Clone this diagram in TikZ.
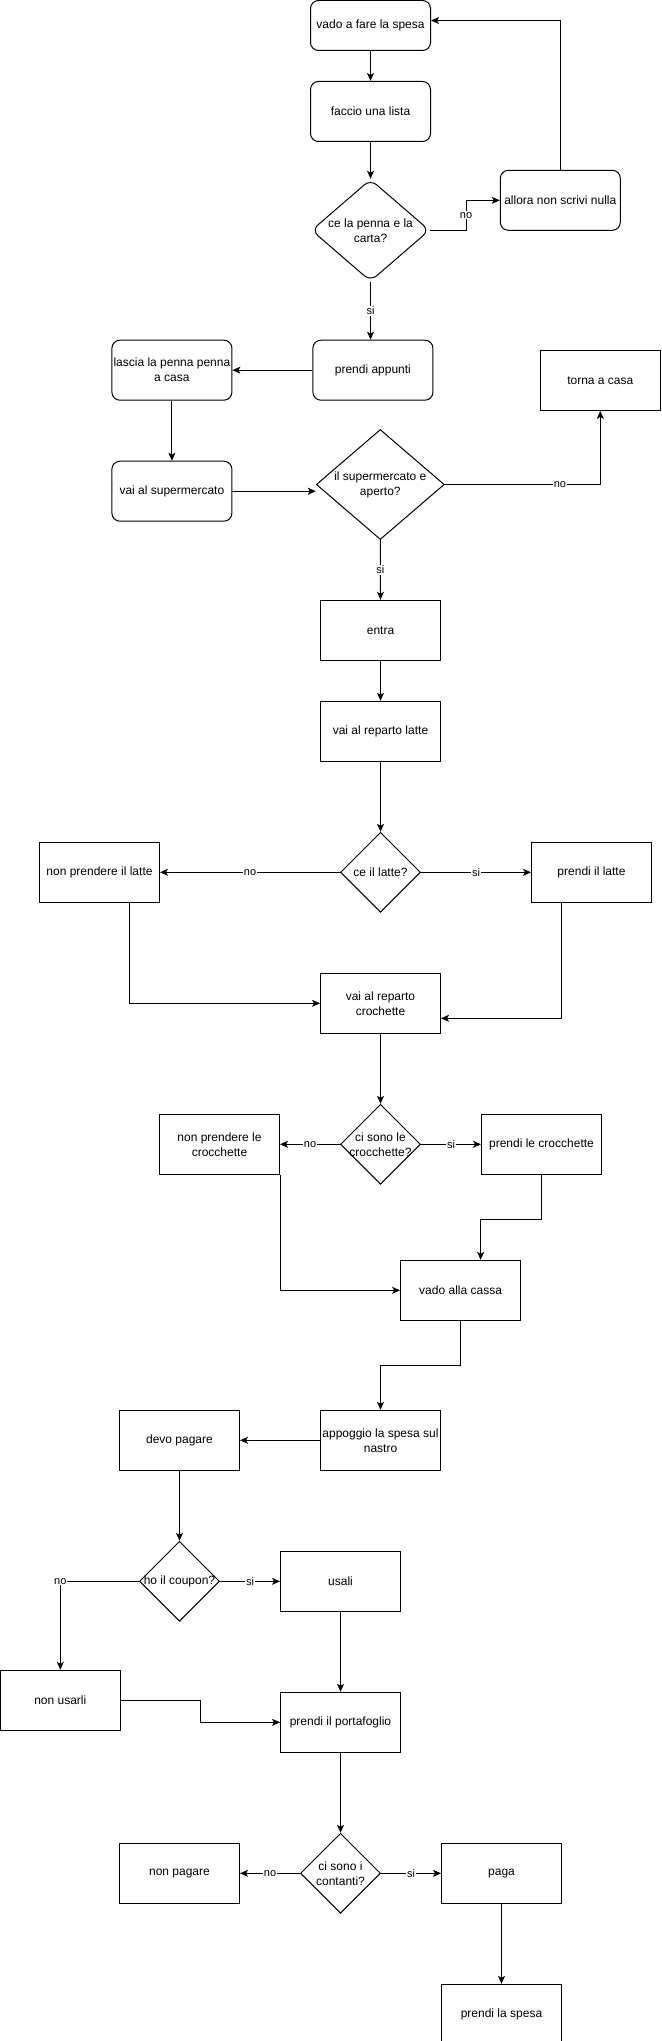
\documentclass[tikz,border=0pt]{standalone}
\usepackage{fontspec}
\setmainfont{Liberation Sans}
\usetikzlibrary{shapes,arrows.meta,positioning,calc}

\begin{document}
\begin{tikzpicture}[
    x=1pt, y=1pt,
    font=\fontsize{12}{15}\selectfont,
    box/.style={rectangle, draw, line width=1pt, minimum width=120pt, minimum height=60pt, inner sep=1pt, align=center},
    rbox/.style={box, rounded corners=8pt},
    dec/.style={diamond, draw, line width=1pt, inner sep=0pt, minimum width=80pt, minimum height=80pt},
    txt/.style={align=center, inner sep=0pt},
    lbl/.style={fill=white, inner sep=1pt, font=\fontsize{11}{13}\selectfont},
    arrow/.style={-{Stealth[length=8pt, width=7pt, inset=2pt]}, line width=1pt}
]

\path[use as bounding box, fill=white] (0,0) rectangle (661,-2041);

\node[rbox, minimum height=50pt] (vado) at (370.5,-25.5) {vado a fare la spesa};
\node[rbox, below=30pt of vado] (faccio) {faccio una lista};
\node[dec, rounded corners=8pt, minimum width=118pt, minimum height=102pt, label={[txt]center:ce la penna e la\\carta?}] (penna) at (370.5,-230.3) {};
\node[rbox] (allora) at (560.3,-200.3) {allora non scrivi nulla};
\node[rbox] (appunti) at (372.9,-370.2) {prendi appunti};
\node[rbox, left=80pt of appunti] (lascia) {lascia la penna penna\\a casa};
\node[rbox, below=60pt of lascia] (vaisuper) {vai al supermercato};
\node[box] (torna) at (600.3,-380.4) {torna a casa};
\node[dec, minimum width=128pt, minimum height=110pt, label={[txt]center:il supermercato e\\aperto?}] (super) at (380.3,-484.5) {};
\node[box] (entra) at (380.5,-630.3) {entra};
\node[box, below=40pt of entra] (vailatte) {vai al reparto latte};
\node[dec, below=70pt of vailatte, label={[txt]center:ce il latte?}] (latte) {};
\node[box, left=180pt of latte] (nolatte) {non prendere il latte};
\node[box, right=110pt of latte] (silatte) {prendi il latte};
\node[box, below=60pt of latte] (crochette) {vai al reparto\\crochette};
\node[dec, below=70pt of crochette, label={[txt]center:ci sono le\\crocchette?}] (croc) {};
\node[box, left=60pt of croc] (nocroc) {non prendere le\\crocchette};
\node[box, right=60pt of croc] (sicroc) {prendi le crocchette};
\node[box] (cassa) at (460.6,-1290.3) {vado alla cassa};
\node[box] (appoggio) at (380.5,-1440.3) {appoggio la spesa sul\\nastro};
\node[box, left=80pt of appoggio] (devo) {devo pagare};
\node[dec, below=70pt of devo, label={[txt]center:ho il coupon?}] (coupon) {};
\node[box, right=60pt of coupon] (usali) {usali};
\node[box] (nousarli) at (60.3,-1700.3) {non usarli};
\node[box, below=80pt of usali] (portafoglio) {prendi il portafoglio};
\node[dec, below=80pt of portafoglio, label={[txt]center:ci sono i\\contanti?}] (contanti) {};
\node[box, left=60pt of contanti] (nopagare) {non pagare};
\node[box, right=60pt of contanti] (paga) {paga};
\node[box, below=80pt of paga] (spesa) {prendi la spesa};

\draw[arrow] (vado) -- (faccio);
\draw[arrow] (faccio) -- (penna);
\draw[arrow] (penna.east) -- ++(36,0) |- node[lbl, pos=0.25] {no} (allora.west);
\draw[arrow] (allora.north) |- ([yshift=5pt]vado.east);
\draw[arrow] (penna.south) -- node[lbl, midway] {si} (penna.south |- appunti.north);
\draw[arrow] (appunti) -- (lascia);
\draw[arrow] (lascia) -- (vaisuper);
\draw[arrow] (vaisuper.east) -- (vaisuper.east -| super.west);
\draw[arrow] (super.east) -| node[lbl, pos=0.37] {no} (torna.south);
\draw[arrow] (super.south) -- node[lbl, midway] {si} (entra.north);
\draw[arrow] (entra) -- (vailatte);
\draw[arrow] (vailatte) -- (latte);
\draw[arrow] (latte) -- node[lbl, midway] {no} (nolatte);
\draw[arrow] (latte) -- node[lbl, midway] {si} (silatte);
\draw[arrow] ([xshift=30pt]nolatte.south) |- (crochette.west);
\draw[arrow] ([xshift=-30pt]silatte.south) |- ([yshift=-15pt]crochette.east);
\draw[arrow] (crochette) -- (croc);
\draw[arrow] (croc) -- node[lbl, midway] {no} (nocroc);
\draw[arrow] (croc) -- node[lbl, midway] {si} (sicroc);
\draw[arrow] (sicroc.south) -- ++(0,-45) -| ([xshift=20pt]cassa.north);
\draw[arrow] (nocroc.south east) |- (cassa.west);
\draw[arrow] (cassa.south) -- ++(0,-45) -| (appoggio.north);
\draw[arrow] (appoggio) -- (devo);
\draw[arrow] (devo) -- (coupon);
\draw[arrow] (coupon) -- node[lbl, midway] {si} (usali);
\draw[arrow] (coupon.west) -| node[lbl, midway] {no} (nousarli.north);
\draw[arrow] (usali) -- (portafoglio);
\draw[arrow] (nousarli.east) -- ++(80,0) |- (portafoglio.west);
\draw[arrow] (portafoglio) -- (contanti);
\draw[arrow] (contanti) -- node[lbl, midway] {no} (nopagare);
\draw[arrow] (contanti) -- node[lbl, midway] {si} (paga);
\draw[arrow] (paga) -- (spesa);

\end{tikzpicture}
\end{document}
